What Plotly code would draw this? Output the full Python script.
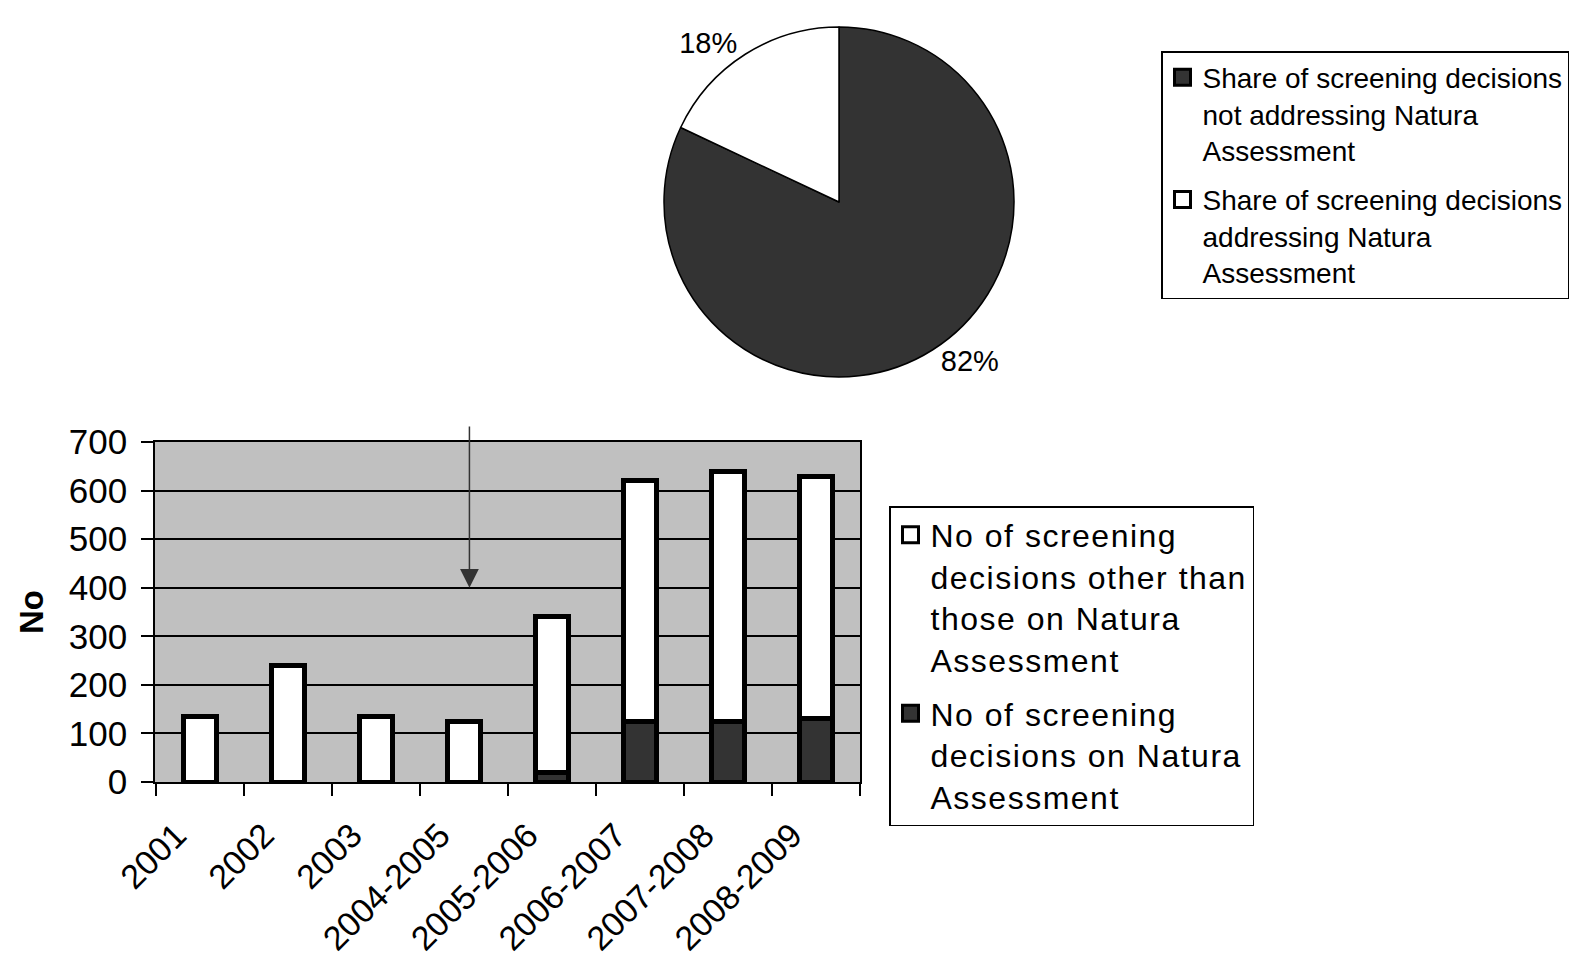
import plotly.graph_objects as go

# ---- data ----
periods = ["2001", "2002", "2003", "2004-2005", "2005-2006", "2006-2007", "2007-2008", "2008-2009"]
natura_decisions = [0, 0, 0, 0, 20, 125, 125, 130]
other_decisions = [135, 240, 135, 125, 320, 495, 515, 500]

pie_labels = [
    "Share of screening decisions<br>not addressing Natura<br>Assessment",
    "Share of screening decisions<br>addressing Natura<br>Assessment",
]
pie_values = [82, 18]

bar_names = [
    "No of screening<br>decisions on Natura<br>Assessment",
    "No of screening<br>decisions other than<br>those on Natura<br>Assessment",
]

y_ticks = [0, 100, 200, 300, 400, 500, 600, 700]

# arrow marking a period (category position and value range)
arrow_x = 3.06
arrow_from = 735
arrow_to = 400

DARK = "#333333"
FONT = "Liberation Sans, Arial, sans-serif"

W, H = 1596, 961


def spaced(label, px=1.5):
    """wrap each line in a span with slight letter spacing (wider legend text)"""
    return "<br>".join(
        "<span style='letter-spacing:%gpx'>%s</span>" % (px, part) for part in label.split("<br>")
    )


fig = go.Figure()

bar_colors = [DARK, "white"]
for vals, name, col in zip([natura_decisions, other_decisions], bar_names, bar_colors):
    fig.add_trace(go.Bar(
        x=periods, y=vals, name=name,
        marker=dict(color=col, line=dict(color="black", width=5)),
        width=0.375, showlegend=False, legendgroup=name,
    ))

# legend entries (bigger square symbols, as in the original)
for name, col in zip(bar_names[::-1], bar_colors[::-1]):
    fig.add_trace(go.Scatter(
        x=[periods[0]], y=[None], mode="markers", name=spaced(name),
        marker=dict(symbol="square", size=16, color=col, line=dict(color="black", width=3)),
        legend="legend", legendgroup=name, hoverinfo="skip",
    ))

# pie domain in pixels -> paper
cx, cy, r = 839, 202, 175
fig.add_trace(go.Pie(
    labels=pie_labels, values=pie_values,
    marker=dict(colors=[DARK, "white"], line=dict(color="black", width=1.5)),
    sort=False, direction="clockwise", rotation=0,
    textinfo="percent", textposition="outside",
    textfont=dict(size=29, color="black", family=FONT),
    domain=dict(x=[(cx - r) / W, (cx + r) / W], y=[1 - (cy + r) / H, 1 - (cy - r) / H]),
    showlegend=False, hoverinfo="label+percent",
))
for lab, col in zip(pie_labels, [DARK, "white"]):
    fig.add_trace(go.Scatter(
        x=[periods[0]], y=[None], mode="markers", name=lab,
        marker=dict(symbol="square", size=16, color=col, line=dict(color="black", width=3)),
        legend="legend2", legendgroup=lab, hoverinfo="skip",
    ))

px0, px1, py0, py1 = 155, 860, 442, 782

fig.update_layout(
    width=W, height=H,
    margin=dict(l=0, r=0, t=0, b=0, autoexpand=False),
    paper_bgcolor="white",
    plot_bgcolor="#C0C0C0",
    barmode="stack",
    font=dict(family=FONT, color="black"),
    xaxis=dict(
        domain=[px0 / W, px1 / W],
        type="category", automargin=False,
        showline=True, linecolor="black", linewidth=1.5, mirror=True,
        ticks="outside", tickson="boundaries", ticklen=12, tickcolor="black", tickwidth=1.5,
        tickangle=-45, tickfont=dict(size=34, family=FONT, color="black"),
        ticklabelshift=-24, ticklabelstandoff=18,
        showgrid=False,
    ),
    yaxis=dict(
        domain=[1 - py1 / H, 1 - py0 / H], automargin=True,
        range=[0, 700], tickvals=y_ticks,
        showline=True, linecolor="black", linewidth=1.5, mirror=True,
        ticks="outside", ticklen=12, tickcolor="black", tickwidth=1.5,
        ticklabelstandoff=7,
        showgrid=True, gridcolor="black", gridwidth=1.5, zeroline=False,
        tickfont=dict(size=35, family=FONT, color="black"),
        title=dict(text="<b>No</b>", font=dict(size=33, family=FONT, color="black"), standoff=15),
    ),
    legend=dict(
        x=889 / W, y=1 - 506 / H, xanchor="left", yanchor="top",
        bordercolor="black", borderwidth=1.5, bgcolor="white",
        font=dict(size=32, family=FONT, color="black"),
        traceorder="grouped", tracegroupgap=9, itemwidth=30, valign="top",
    ),
    legend2=dict(
        x=1161 / W, y=1 - 51 / H, xanchor="left", yanchor="top",
        bordercolor="black", borderwidth=1.5, bgcolor="white",
        font=dict(size=28, family=FONT, color="black"),
        traceorder="grouped", tracegroupgap=10, itemwidth=30, valign="top",
    ),
    showlegend=True,
)

fig.add_annotation(
    x=arrow_x, y=arrow_to, ax=arrow_x, ay=arrow_from,
    xref="x", yref="y", axref="x", ayref="y",
    text="", showarrow=True, arrowhead=2, arrowsize=2.5, arrowwidth=1.5,
    arrowcolor="#333333",
)

fig.write_html("out.html")
